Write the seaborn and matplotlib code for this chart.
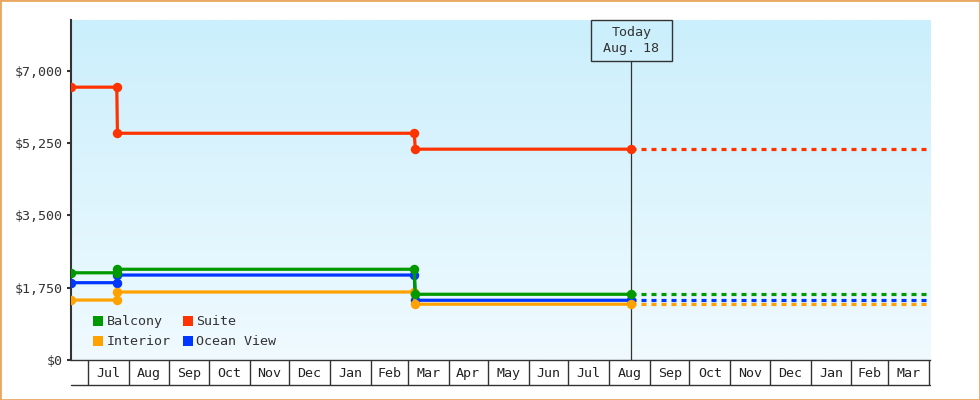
import numpy as np
import pandas as pd
import matplotlib
matplotlib.use("Agg")
import matplotlib.pyplot as plt
import matplotlib.dates as mdates
import matplotlib.transforms as mtrans
from matplotlib.patches import Rectangle
from matplotlib.lines import Line2D
from matplotlib.colors import LinearSegmentedColormap
from matplotlib.ticker import FuncFormatter, FixedLocator, NullFormatter
import seaborn as sns

# ---------------- data ----------------
change_dates = ["2021-06-18 00:00", "2021-07-23 00:00", "2021-07-23 12:00",
                "2022-03-06 00:00", "2022-03-06 18:00", "2022-08-18 00:00"]
balcony = [2110, 2110, 2195, 2195, 1590, 1590]
interior = [1450, 1450, 1645, 1645, 1350, 1350]
suite = [6600, 6600, 5485, 5485, 5100, 5100]
ocean_view = [1870, 1870, 2055, 2055, 1445, 1445]

series_names = ["Balcony", "Interior", "Suite", "Ocean View"]
series_values = [balcony, interior, suite, ocean_view]
series_colors = ["#009a00", "#ffa200", "#ff3300", "#0036ff"]

today = "2022-08-18 00:00"
today_label = "Today\nAug. 18"
projection_end = "2023-04-01 00:00"
x_start, x_end = "2021-06-18", "2023-04-02"
y_ticks = [0, 1750, 3500, 5250, 7000]
y_max = 8225
month_starts = pd.date_range("2021-07-01", "2023-04-01", freq="MS")

# ---------------- style ----------------
sns.set_theme(style="white")
plt.rcParams["font.family"] = ["DejaVu Sans Mono", "DejaVu Sans"]
plt.rcParams["lines.scale_dashes"] = False
FS = 9.6
DARK = "#333333"
FMT = "%Y-%m-%d %H:%M"

hist = pd.concat([
    pd.DataFrame({"date": pd.to_datetime(change_dates, format=FMT), "price": vals, "series": name})
    for name, vals in zip(series_names, series_values)
], ignore_index=True)
proj = pd.concat([
    pd.DataFrame({"date": pd.to_datetime([today, projection_end], format=FMT),
                  "price": [vals[-1], vals[-1]], "series": name})
    for name, vals in zip(series_names, series_values)
], ignore_index=True)

W, H = 980, 400
L, R, T, B = 70.7, 930.3, 20, 360
fig = plt.figure(figsize=(W / 100, H / 100), dpi=100)
fig.patch.set_facecolor("white")
ax = fig.add_axes([L / W, 1 - B / H, (R - L) / W, (B - T) / H])

# gradient background
cmap = LinearSegmentedColormap.from_list("bg", ["#f0faff", "#cbeffc"])
grad = np.linspace(0, 1, 256).reshape(-1, 1)
ax.imshow(grad, extent=[0, 1, 0, 1], transform=ax.transAxes, aspect="auto",
          cmap=cmap, origin="lower", zorder=0)

draw_order = ["Ocean View", "Interior", "Suite", "Balcony"]
color_map = dict(zip(series_names, series_colors))
for i, name in enumerate(draw_order):
    c = color_map[name]
    sns.lineplot(data=hist[hist.series == name], x="date", y="price", color=c,
                 marker="o", markersize=6.8, markeredgewidth=0, linewidth=2.3,
                 estimator=None, sort=False, legend=False, ax=ax, zorder=3 + i)
    sns.lineplot(data=proj[proj.series == name], x="date", y="price", color=c,
                 linewidth=2.3, linestyle=(0, (3.6, 3.6)),
                 estimator=None, sort=False, legend=False, ax=ax, zorder=3 + i)

ax.set_xlim(pd.Timestamp(x_start), pd.Timestamp(x_end))
ax.set_ylim(0, y_max)
ax.set_xlabel("")
ax.set_ylabel("")
ax.grid(False)

# y axis
ax.set_yticks(y_ticks)
ax.yaxis.set_major_formatter(FuncFormatter(lambda v, p: f"${v:,.0f}"))
ax.tick_params(axis="y", direction="out", length=3, width=1.5, color=DARK,
               labelcolor=DARK, labelsize=FS, pad=3, left=True)

# x axis: month cells
ms_num = mdates.date2num(month_starts)
mids = ms_num[:-1] + np.diff(ms_num) / 2
ax.xaxis.set_major_locator(FixedLocator(ms_num))
ax.xaxis.set_major_formatter(NullFormatter())
ax.xaxis.set_minor_locator(FixedLocator(mids))
ax.xaxis.set_minor_formatter(mdates.DateFormatter("%b"))
ax.tick_params(axis="x", which="major", direction="out", length=18, width=1,
               color=DARK, bottom=True)
ax.tick_params(axis="x", which="minor", length=0, pad=5.2, labelsize=FS,
               labelcolor="#222222", bottom=True)

for s in ["top", "right"]:
    ax.spines[s].set_visible(False)
ax.spines["left"].set_linewidth(1.5)
ax.spines["left"].set_color(DARK)
ax.spines["bottom"].set_linewidth(1)
ax.spines["bottom"].set_color(DARK)

bottom_line = Line2D([0, 1], [0, 0], color=DARK, lw=1,
                     transform=mtrans.offset_copy(ax.transAxes, fig=fig, y=-25, units="dots"))
fig.add_artist(bottom_line)

# today marker
today_ts = pd.to_datetime(today, format=FMT)
today_num = mdates.date2num(today_ts)
ax.axvline(today_ts, ymin=0, ymax=1 - 40.5 / (B - T), color=DARK, lw=0.9, zorder=2)
box_tr = fig.dpi_scale_trans + mtrans.ScaledTranslation(today_num, 1.0, ax.get_xaxis_transform())
fig.add_artist(Rectangle((-0.402, -0.405), 0.804, 0.405, transform=box_tr,
                         fill=False, edgecolor=DARK, lw=1))
ax.annotate(today_label, xy=(today_num, 1), xycoords=ax.get_xaxis_transform(),
            xytext=(0, -20.5), textcoords="offset pixels", ha="center", va="center",
            fontsize=FS, color=DARK, linespacing=1.35)

# legend
handles = [Line2D([], [], marker="s", linestyle="none", markersize=7.5,
                  markeredgewidth=0, color=c) for c in series_colors]
ax.legend(handles, series_names, ncol=2, loc="lower left",
          bbox_to_anchor=(0.026, 0.034), frameon=False, borderpad=0,
          borderaxespad=0, handlelength=0.8, handletextpad=0.2,
          columnspacing=0.95, labelspacing=0.54, fontsize=FS, labelcolor=DARK)

# outer border
fig.add_artist(Rectangle((0, 0), 1, 1, transform=fig.transFigure, fill=False,
                         edgecolor="#e9a862", lw=2))

fig.savefig("out.png", dpi=100)
